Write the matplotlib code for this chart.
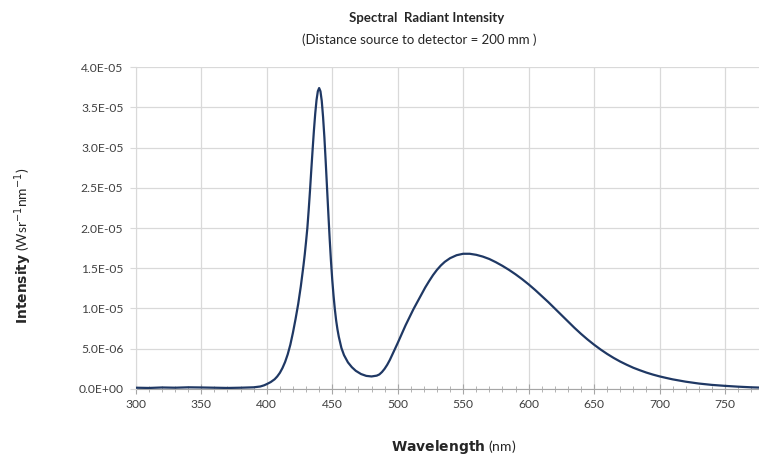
import matplotlib
matplotlib.use("Agg")
import matplotlib.pyplot as plt
from matplotlib.ticker import MultipleLocator, FuncFormatter
import numpy as np

# Data (intensity in units of 1e-5 W sr^-1 nm^-1)
wavelength = [300, 310, 320, 330, 340, 350, 360, 370, 380, 390, 395, 398, 400, 403,
              406, 408, 410, 412, 414, 416, 418, 420, 422, 424, 426, 428, 429, 430,
              431, 432, 433, 434, 435, 436, 437, 438, 439, 440, 441, 442, 443, 444,
              445, 446, 447, 448, 449, 450, 451, 452, 453, 454, 455, 457, 459, 462,
              465, 468, 472, 476, 480, 484, 486, 488, 490, 492, 494, 496, 498, 500,
              503, 506, 509, 512, 515, 518, 521, 524, 527, 530, 533, 536, 540, 545,
              550, 555, 560, 565, 570, 575, 580, 585, 590, 595, 600, 605, 610, 615,
              620, 625, 630, 635, 640, 645, 650, 655, 660, 665, 670, 675, 680, 685,
              690, 695, 700, 705, 710, 720, 730, 740, 750, 760, 770, 780]
intensity_e5 = [0.015, 0.012, 0.018, 0.015, 0.020, 0.018, 0.015, 0.012, 0.015, 0.020,
                0.030, 0.045, 0.060, 0.085, 0.120, 0.155, 0.200, 0.260, 0.335, 0.430,
                0.550, 0.700, 0.870, 1.055, 1.275, 1.530, 1.670, 1.830, 2.000, 2.220,
                2.460, 2.720, 2.970, 3.210, 3.420, 3.590, 3.700, 3.740, 3.700, 3.580,
                3.380, 3.130, 2.830, 2.510, 2.190, 1.880, 1.600, 1.360, 1.160, 0.990,
                0.850, 0.740, 0.650, 0.510, 0.420, 0.330, 0.270, 0.225, 0.185, 0.162,
                0.155, 0.165, 0.180, 0.210, 0.250, 0.300, 0.360, 0.430, 0.500, 0.570,
                0.680, 0.790, 0.890, 0.990, 1.080, 1.170, 1.260, 1.340, 1.415, 1.480,
                1.535, 1.580, 1.625, 1.662, 1.680, 1.680, 1.667, 1.645, 1.615, 1.575,
                1.530, 1.480, 1.425, 1.365, 1.300, 1.230, 1.155, 1.080, 1.000, 0.920,
                0.840, 0.760, 0.685, 0.615, 0.550, 0.490, 0.435, 0.385, 0.340, 0.300,
                0.263, 0.232, 0.203, 0.178, 0.156, 0.137, 0.119, 0.090, 0.067, 0.050,
                0.038, 0.028, 0.020, 0.015]
x_ticks = [300, 350, 400, 450, 500, 550, 600, 650, 700, 750]
y_ticks = [0.0, 5e-6, 1e-5, 1.5e-5, 2e-5, 2.5e-5, 3e-5, 3.5e-5, 4e-5]

plt.rcParams['font.family'] = ['Lato', 'DejaVu Sans']

fig = plt.figure(figsize=(7.59, 4.63), dpi=100)
ax = fig.add_axes([0.179, 0.160, 0.821, 0.695])

y = np.array(intensity_e5) * 1e-5
ax.plot(wavelength, y, color='#1F3864', lw=1.6, solid_joinstyle='round',
        solid_capstyle='round', zorder=3)

ax.set_xlim(300, 776)
ax.set_ylim(0, 4e-5)
ax.set_xticks(x_ticks)
ax.set_yticks(y_ticks)
ax.xaxis.set_minor_locator(MultipleLocator(10))
ax.yaxis.set_major_formatter(FuncFormatter(
    lambda v, p: "0.0E+00" if v == 0 else
    ("%.1fE-%02d" % (v / 10 ** np.floor(np.log10(v)), -int(np.floor(np.log10(v)))))))

ax.grid(True, which='major', color='#D9D9D9', lw=0.9)
ax.set_axisbelow(True)
for s in ['top', 'right']:
    ax.spines[s].set_visible(False)
ax.spines['left'].set_color('#D9D9D9')
ax.spines['bottom'].set_color('#A6A6A6')
ax.spines['bottom'].set_zorder(2)
ax.tick_params(axis='x', which='major', direction='inout', length=7, color='#A6A6A6',
               labelsize=8.7, labelcolor='#404040', pad=4)
ax.tick_params(axis='x', which='minor', direction='inout', length=4, color='#A6A6A6')
ax.tick_params(axis='y', which='major', length=4, color='#D9D9D9',
               labelsize=8.7, labelcolor='#404040', pad=5)

fig.text(0.562, 0.962, "Spectral  Radiant Intensity", ha='center', va='center',
         fontsize=9.5, fontweight='bold', color='#262626')
fig.text(0.552, 0.914, "(Distance source to detector = 200 mm )", ha='center', va='center',
         fontsize=9.5, color='#262626')

fig.text(0.597, 0.034, r"$\bf{Wavelength}$ (nm)", ha='center', va='center',
         fontsize=10, color='#262626')
fig.text(0.030, 0.47, "$\\bf{Intensity}$ (Wsr$^{-1}$nm$^{-1}$)", ha='center', va='center',
         rotation=90, fontsize=10, color='#262626')

fig.savefig("out.png", dpi=100)
